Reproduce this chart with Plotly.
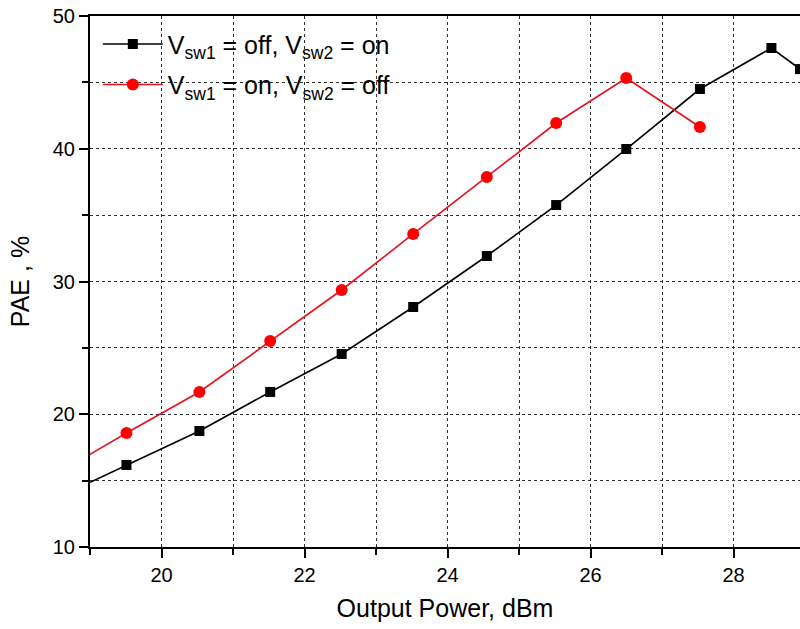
import plotly.graph_objects as go

# Data
x_black = [18.5, 19.51, 20.53, 21.52, 22.52, 23.52, 24.55, 25.52, 26.50, 27.53, 28.53, 28.93]
y_black = [13.6, 16.18, 18.74, 21.68, 24.54, 28.08, 31.92, 35.76, 39.98, 44.50, 47.59, 46.0]

x_red = [18.5, 19.51, 20.53, 21.52, 22.52, 23.52, 24.55, 25.52, 26.50, 27.53]
y_red = [15.4, 18.59, 21.68, 25.52, 29.36, 33.58, 37.87, 41.94, 45.33, 41.64]

name_black = "V<sub>sw1</sub> = off, V<sub>sw2</sub> = on"
name_red = "V<sub>sw1</sub> = on, V<sub>sw2</sub> = off"

FONT = "Liberation Sans, Arial, sans-serif"

fig = go.Figure()
fig.add_trace(go.Scatter(
    x=x_black, y=y_black, mode="lines+markers", name=name_black, legendgroup="a",
    line=dict(color="black", width=1.6),
    marker=dict(symbol="square", size=10, color="black"),
))
fig.add_trace(go.Scatter(
    x=x_red, y=y_red, mode="lines+markers", name=name_red, legendgroup="b",
    line=dict(color="#e8101a", width=1.6),
    marker=dict(symbol="circle", size=12, color="#ff0000"),
))

fig.update_layout(
    width=800, height=629,
    margin=dict(l=90, r=0, t=16, b=82),
    paper_bgcolor="white", plot_bgcolor="white",
    font=dict(family=FONT, color="black"),
    showlegend=True,
    legend=dict(
        x=0.011, y=0.99, xanchor="left", yanchor="top",
        bgcolor="rgba(255,255,255,0)", borderwidth=0,
        font=dict(size=25, family=FONT, color="black"),
        itemwidth=60, tracegroupgap=5,
    ),
    xaxis=dict(
        range=[19, 28.93], tick0=20, dtick=2,
        showline=True, linecolor="black", linewidth=2, mirror=True,
        ticks="outside", ticklen=9, tickwidth=1.5, tickcolor="black",
        tickfont=dict(size=20, family=FONT),
        showgrid=True, gridcolor="#333333", gridwidth=1, griddash="dot",
        minor=dict(dtick=1, ticks="outside", ticklen=6, tickcolor="black",
                   showgrid=True, gridcolor="#333333", gridwidth=1, griddash="dot"),
        zeroline=False,
        title=dict(text="Output Power, dBm", font=dict(size=25, family=FONT), standoff=14),
    ),
    yaxis=dict(
        range=[10, 50], tick0=10, dtick=10,
        showline=True, linecolor="black", linewidth=2, mirror=False,
        ticks="outside", ticklen=9, tickwidth=1.5, tickcolor="black",
        tickfont=dict(size=20, family=FONT),
        showgrid=True, gridcolor="#333333", gridwidth=1, griddash="dot",
        minor=dict(dtick=5, ticks="outside", ticklen=6, tickcolor="black",
                   showgrid=True, gridcolor="#333333", gridwidth=1, griddash="dot"),
        zeroline=False,
        title=dict(text="PAE , %", font=dict(size=25, family=FONT), standoff=16),
    ),
)

fig.write_html("out.html")
